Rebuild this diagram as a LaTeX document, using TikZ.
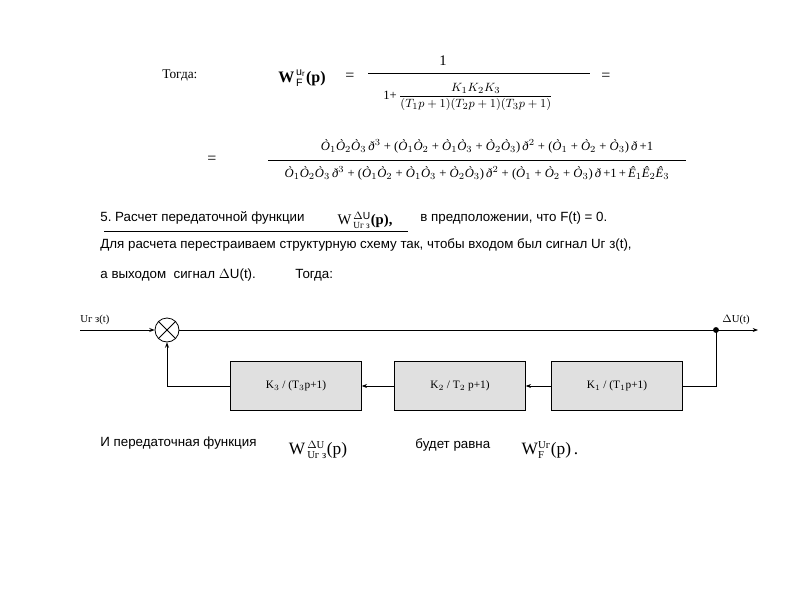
\documentclass[tikz,border=0pt]{standalone}
\usepackage{amsmath}
\usepackage{fontspec}
\setmainfont{Liberation Sans}
\newfontfamily\srf{Liberation Serif}
\usetikzlibrary{arrows.meta}
\newcommand{\Oi}[1]{{\itshape Ò}$_{#1}$}
\newcommand{\Ei}[1]{{\itshape Ê}$_{#1}$}
\newcommand{\dd}{{\itshape ð}}
\begin{document}
\begin{tikzpicture}[x=0.75pt,y=-0.75pt,
  txt/.style={anchor=west,inner sep=0,font=\fontsize{10}{11}\selectfont},
  frm/.style={inner sep=0,font=\srf\fontsize{9.5}{10}\selectfont},
  blk/.style={draw,fill=black!12,minimum width=98pt,minimum height=36.75pt,font=\srf\fontsize{8.5}{10}\selectfont},
  arr/.style={-{Stealth[length=4pt,width=3pt]}},
  every path/.style={line width=0.6pt}]
\useasboundingbox (0,0) rectangle (800,600);
\node[txt] (t1) at (162,75) {\srf Тогда:};
\node[frm,font=\srf\bfseries\fontsize{12}{14}\selectfont] (w1) at (302,78) {W$^{\,\mathrm{u_r}}_{\,\mathrm{F}}$(p)};
\node[frm,font=\srf\fontsize{12}{14}\selectfont] (e1) at (350,77) {=};
\node[frm,font=\srf\fontsize{11}{14}\selectfont] (n1) at (443,61) {1};
\draw (368,73) -- (590,73);
\node[frm] (d1) at (468,97) {1+\,$\dfrac{K_1K_2K_3}{(T_1p+1)(T_2p+1)(T_3p+1)}$};
\node[frm,font=\srf\fontsize{12}{14}\selectfont] (e2) at (606,77) {=};
\node[frm,font=\srf\fontsize{12}{14}\selectfont] (e3) at (212,160) {=};
\node[frm] (n2) at (487,146) {\Oi1\Oi2\Oi3\,\dd$^3$ + (\Oi1\Oi2 + \Oi1\Oi3 + \Oi2\Oi3)\,\dd$^2$ + (\Oi1 + \Oi2 + \Oi3)\,\dd\,+1};
\draw (268,160) -- (686,160);
\node[frm] (d2) at (477,173) {\Oi1\Oi2\Oi3\,\dd$^3$ + (\Oi1\Oi2 + \Oi1\Oi3 + \Oi2\Oi3)\,\dd$^2$ + (\Oi1 + \Oi2 + \Oi3)\,\dd\,+1\,+\,\Ei1\Ei2\Ei3};
\node[txt] (s5) at (100,218) {5.\ Расчет передаточной функции};
\draw (104,231) -- (408,231);
\node[frm,font=\srf\fontsize{11}{13}\selectfont] (w2) at (365,220) {W$^{\,\Delta\mathrm{U}}_{\,\text{\fontsize{7}{8}\selectfont Uг з}}$\textbf{(p),}};
\node[txt] (s5b) at (420,218) {в предположении, что F(t) = 0.};
\node[txt] (s6) at (100,245) {Для расчета перестраиваем структурную схему так, чтобы входом был сигнал Uг з(t),};
\node[txt] (s7) at (100,275) {а выходом\ \ сигнал $\Delta$U(t).};
\node[txt] (s7b) at (295,275) {Тогда:};
% diagram
\coordinate (in) at (80,330);
\node[draw,circle,minimum size=18pt,inner sep=0] (sum) at (167,330) {};
\draw (sum.north west) -- (sum.south east) (sum.north east) -- (sum.south west);
\node[txt,font=\srf\fontsize{8}{10}\selectfont] (lin) at (80,320) {Uг з(t)};
\fill (716,330) circle (2.2pt) coordinate (dot);
\coordinate (out) at (758,330);
\node[txt,font=\srf\fontsize{8}{10}\selectfont] (lout) at (722,320) {$\Delta$U(t)};
\draw[arr] (in) -- (sum.west);
\draw (sum.east) -- (dot);
\draw[arr] (dot) -- (out);
\node[blk] (b1) at (617,386) {K$_1$ / (T$_1$p+1)};
\node[blk] (b2) at (460,386) {K$_2$ / T$_2$ p+1)};
\node[blk] (b3) at (296,386) {K$_3$ / (T$_3$p+1)};
\draw (dot) |- (b1.east);
\draw[arr] (b1.west) -- (b2.east);
\draw[arr] (b2.west) -- (b3.east);
\draw[arr] (b3.west) -| (sum.south);
\node[txt] (s8) at (100,443) {И передаточная функция};
\node[frm,font=\srf\fontsize{13}{15}\selectfont] (w3) at (318,450) {W$^{\,\text{\fontsize{8}{9}\selectfont $\Delta$U}}_{\,\text{\fontsize{8}{9}\selectfont Uг з}}$(p)};
\node[txt] (s9) at (415,445) {будет равна};
\node[frm,font=\srf\fontsize{13}{15}\selectfont] (w4) at (550,450) {W$^{\text{\fontsize{8}{9}\selectfont Uг}}_{\text{\fontsize{8}{9}\selectfont F}}$(p)\,.};
\end{tikzpicture}
\end{document}
